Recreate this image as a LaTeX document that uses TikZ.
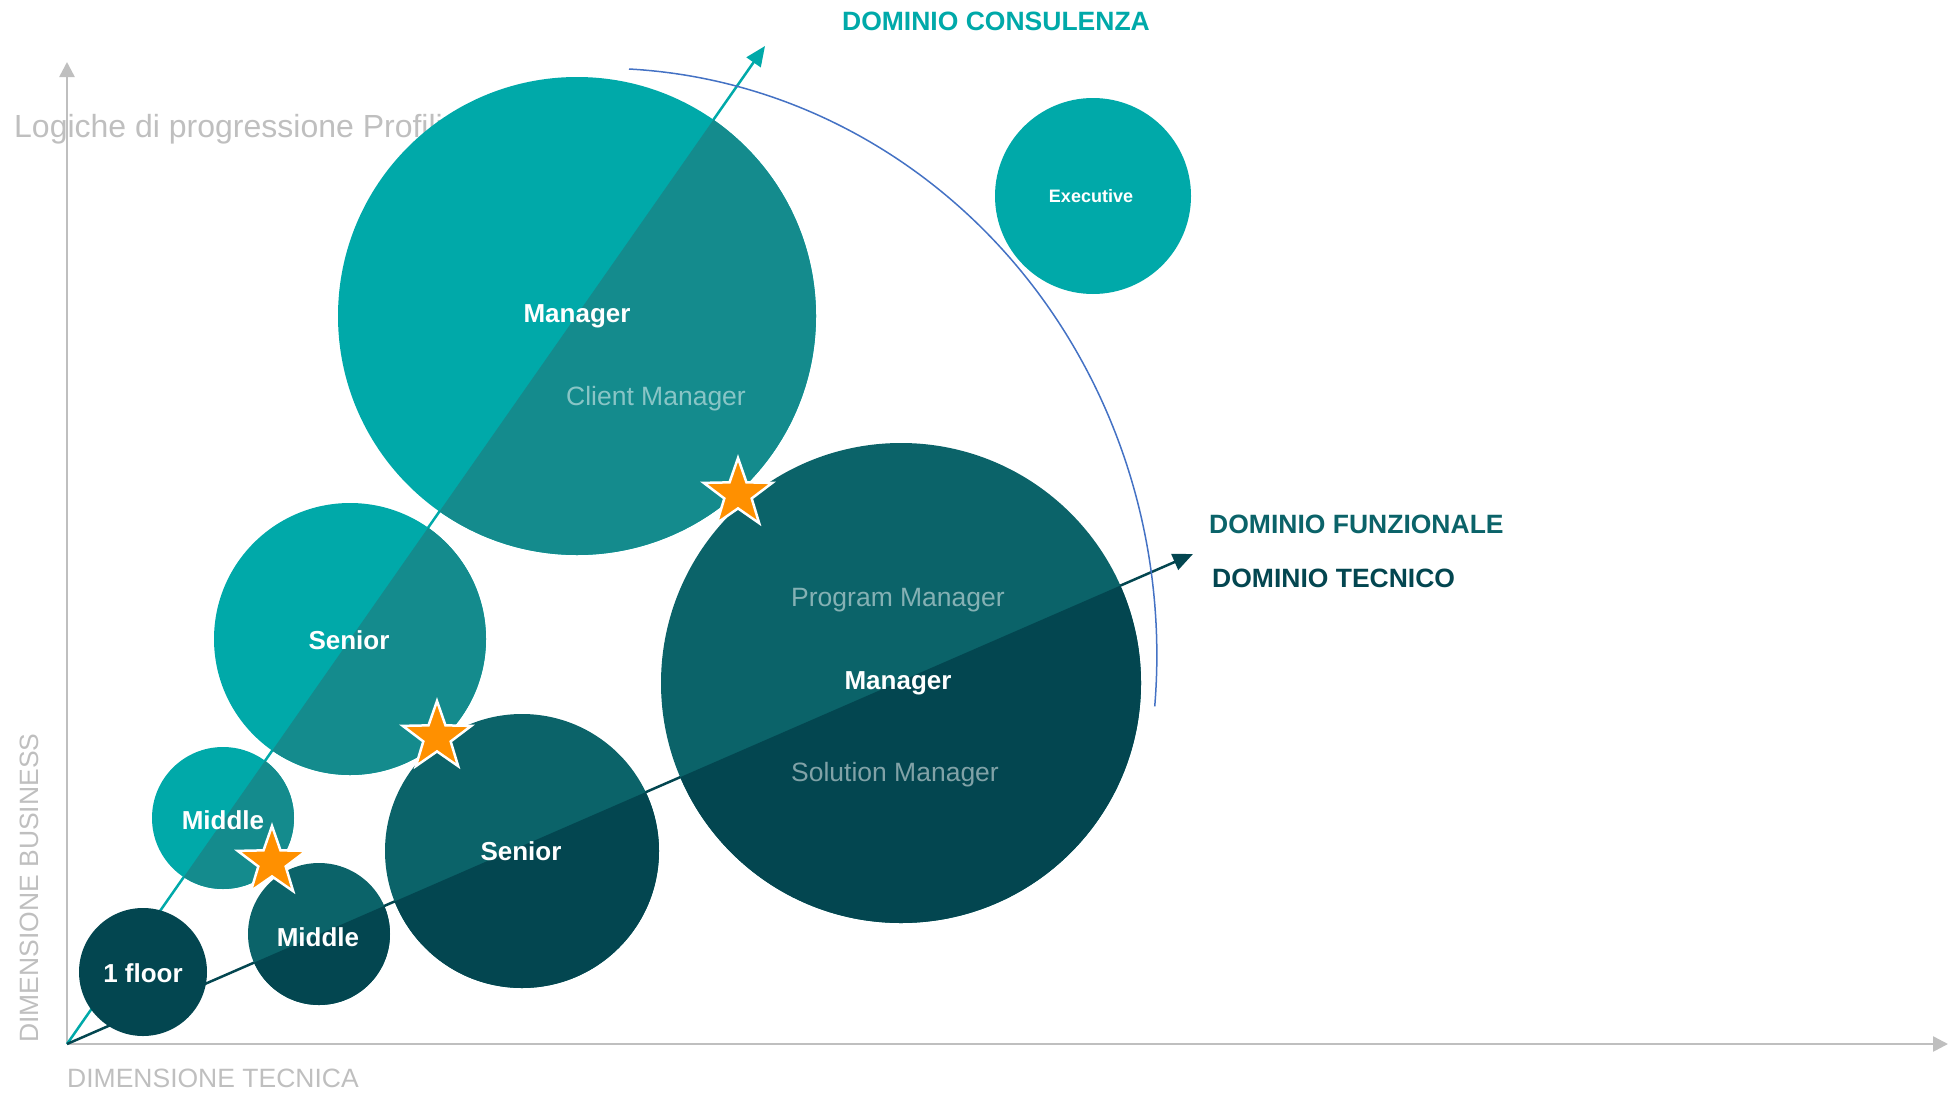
\documentclass[tikz,border=0pt]{standalone}
\usepackage{fontspec}
\setmainfont{Liberation Sans}
\usepackage{tikz}
\usetikzlibrary{arrows.meta,shapes.geometric,calc}
\usepackage{xcolor}
\definecolor{consteal}{HTML}{00A9A9}
\definecolor{consdeep}{HTML}{148B8D}
\definecolor{tecteal}{HTML}{0B6369}
\definecolor{tecdeep}{HTML}{034650}
\definecolor{axisgray}{HTML}{BFBFBF}
\definecolor{arcblue}{HTML}{4472C4}
\definecolor{starorange}{HTML}{FF9000}

\begin{document}
\begin{tikzpicture}
    [
      x = 1pt, y = -1pt,
      axisline/.style = {draw = axisgray, line width = 2.5pt, -{Triangle[length=15pt,width=15pt]}},
      axislabel/.style = {text = axisgray, font = \fontsize{26.5}{30}\selectfont, inner sep = 0pt},
      domainarrow/.style = {line width = 2.5pt, -{Triangle[length=20pt,width=17pt]}},
      domainlabel/.style = {font = \bfseries\fontsize{26.5}{30}\selectfont, inner sep = 0pt, anchor = west},
      bubble/.style = {text = white, font = \bfseries\fontsize{26}{30}\selectfont, inner sep = 0pt},
      role/.style = {text = white, text opacity = 0.5, font = \fontsize{26.5}{30}\selectfont, inner sep = 0pt},
      milestone/.style = {star, star points = 5, star point ratio = 2.5, minimum size = 72pt,
        inner sep = 0pt, fill = starorange, draw = white, line width = 2.5pt}
    ]
    \useasboundingbox (0,0) rectangle (1951,1092);

    \coordinate (O) at (67,1044);
    \coordinate (yTip) at (67,62);
    \coordinate (xTip) at (1948,1044);
    \coordinate (consTip) at (765,46);
    \coordinate (tecTip) at (1193,554);

    \node [text = axisgray, font = \fontsize{32}{36}\selectfont, inner sep = 0pt, anchor = base west] (logiche) at (14,137) {Logiche di progressione Profili};
    \draw [axisline] (O) -- (yTip);
    \draw [axisline] (O) -- (xTip);
    \node [axislabel, anchor = west] (dimTec) at (67,1078) {DIMENSIONE TECNICA};
    \node [axislabel, anchor = west, rotate = 90] (dimBus) at (29,1043) {DIMENSIONE BUSINESS};

    \draw [domainarrow, consteal] (O) -- (consTip);
    \draw [domainarrow, tecdeep] (O) -- (tecTip);

    % consulenza
    \fill [consteal] (577,316) circle (239) (350,639) circle (136) (223,818) circle (71);
    \begin{scope}
      \clip (577,316) circle (239) (350,639) circle (136) (223,818) circle (71);
      \fill [consdeep] (O) -- ($(O)!1.3!(consTip)$) -- (1300,-300) -- (1300,1100) -- (67,1100) -- cycle;
    \end{scope}
    \fill [consteal] (1093,196) circle (98);

    % tecnico
    \fill [tecteal] (901,683) circle (240) (522,851) circle (137) (319,934) circle (71);
    \begin{scope}
      \clip (901,683) circle (240) (522,851) circle (137) (319,934) circle (71);
      \fill [tecdeep] (O) -- ($(O)!1.3!(tecTip)$) -- (1600,1100) -- (67,1100) -- cycle;
    \end{scope}
    \fill [tecdeep] (143,972) circle (64);

    \draw [arcblue, line width = 1.5pt] (629,69) arc [start angle = -87, end angle = 5, x radius = 557, y radius = 587];

    \node [bubble] (mgrCons) at (577,316) {Manager};
    \node [role] (clientMgr) at (656,399) {Client Manager};
    \node [bubble, font = \bfseries\fontsize{18}{22}\selectfont] (exec) at (1091,196) {Executive};
    \node [bubble] (senCons) at (349,640) {Senior};
    \node [bubble] (midCons) at (223,820) {Middle};
    \node [bubble] (floor) at (143,973) {1 floor};
    \node [bubble] (midTec) at (318,937) {Middle};
    \node [bubble] (senTec) at (521,851) {Senior};
    \node [role] (progMgr) at (898,600) {Program Manager};
    \node [bubble] (mgrTec) at (898,683) {Manager};
    \node [role] (solMgr) at (895,775) {Solution Manager};

    \node [milestone] (star1) at (738,494) {};
    \node [milestone] (star2) at (437,737) {};
    \node [milestone] (star3) at (272,862) {};

    \node [domainlabel, text = consteal, anchor = center] (domCons) at (996,21) {DOMINIO CONSULENZA};
    \node [domainlabel, text = tecteal] (domFunz) at (1209,524) {DOMINIO FUNZIONALE};
    \node [domainlabel, text = tecdeep] (domTec) at (1212,578) {DOMINIO TECNICO};
\end{tikzpicture}
\end{document}
